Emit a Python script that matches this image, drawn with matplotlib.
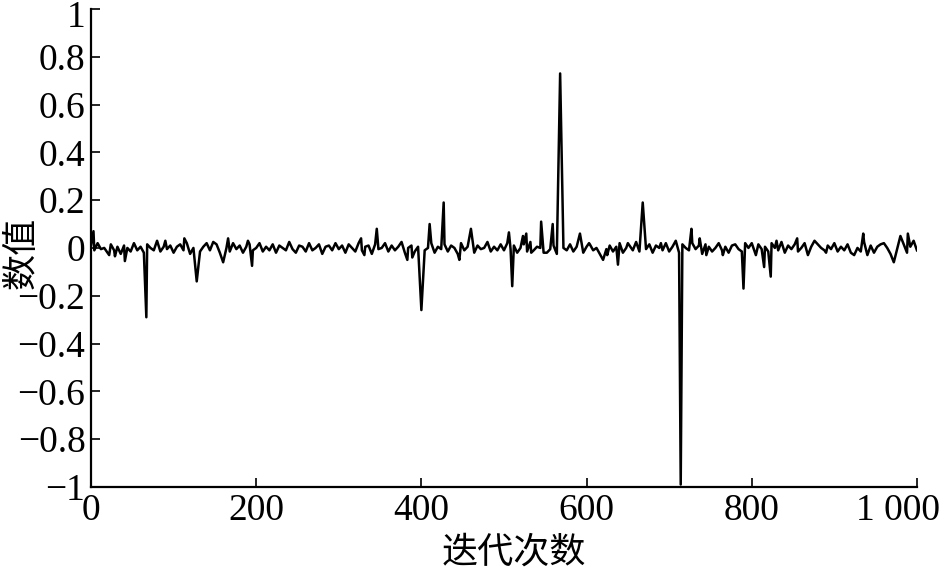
import matplotlib
matplotlib.use('Agg')
import matplotlib.pyplot as plt
from matplotlib.transforms import ScaledTranslation

plt.rcParams['font.family'] = ['Liberation Serif', 'Noto Sans CJK SC']
plt.rcParams['axes.unicode_minus'] = True

# baseline noise, one value every 4 iterations (0..1000)
base_step = 4
base_values = [
    0.01, -0.01, 0.02, -0.005, 0.0, -0.02, 0.015, -0.01, 0.005, -0.025, 0.01, 0.0, -0.015, 0.02, -0.01, 0.005, -0.02, 0.015, 0.0, -0.01, 0.025, -0.015, 0.005, -0.005, 0.01,
    -0.02, 0.005, 0.015, -0.01, 0.02, -0.025, 0.0, 0.01, -0.015, 0.005, 0.02, -0.01, -0.005, 0.015, -0.02, 0.01, 0.0, -0.015, 0.02, -0.005, 0.01, -0.02, 0.005, 0.015, -0.01,
    0.0, 0.02, -0.015, 0.005, -0.01, 0.015, -0.02, 0.01, 0.0, -0.01, 0.025, -0.005, -0.02, 0.01, 0.005, -0.015, 0.02, -0.01, 0.0, 0.015, -0.025, 0.005, 0.01, -0.01, 0.02,
    -0.005, 0.01, -0.02, 0.015, 0.0, -0.015, 0.02, -0.01, 0.005, 0.01, -0.025, 0.015, -0.005, 0.0, 0.02, -0.015, 0.01, -0.01, 0.005, 0.025, -0.02, 0.0, 0.01, -0.015, 0.005,
    0.015, -0.01, 0.0, 0.02, -0.02, 0.005, -0.005, 0.015, -0.015, 0.01, 0.0, -0.025, 0.02, -0.01, 0.005, 0.015, -0.02, 0.01, -0.005, 0.0, 0.02, -0.015, 0.005, -0.01, 0.015,
    -0.01, 0.02, -0.005, 0.01, -0.02, 0.0, 0.015, -0.015, 0.025, -0.01, 0.005, 0.0, -0.02, 0.015, -0.005, 0.01, -0.025, 0.02, 0.0, -0.01, 0.015, -0.015, 0.005, 0.01, -0.02,
    0.005, 0.015, -0.01, 0.0, -0.025, 0.02, -0.005, 0.01, -0.015, 0.005, 0.02, -0.02, 0.0, 0.01, -0.01, 0.025, -0.015, 0.005, -0.005, 0.015, -0.02, 0.01, 0.0, -0.01, 0.02,
    -0.015, 0.005, 0.01, -0.02, 0.015, 0.0, -0.01, 0.02, -0.005, 0.01, -0.025, 0.015, 0.005, -0.015, 0.0, 0.02, -0.01, 0.005, -0.02, 0.01, 0.015, -0.005, -0.015, 0.02, 0.0,
    0.01, -0.02, 0.015, -0.005, 0.005, -0.015, 0.02, 0.0, -0.01, 0.025, -0.02, 0.01, -0.005, 0.015, -0.015, 0.0, 0.02, -0.01, 0.005, -0.025, 0.015, 0.0, -0.01, 0.01, -0.005,
    0.02, -0.015, 0.005, -0.01, 0.015, -0.02, 0.01, 0.0, -0.015, 0.025, -0.005, 0.01, -0.02, 0.005, 0.015, -0.01, 0.0, -0.025, 0.02, -0.005, 0.01, 0.015, -0.02, 0.005, -0.01,
    -0.01,
]

# single-iteration spikes
spike_iters = [3, 22, 29, 41, 67, 80, 90, 113, 128, 148, 160, 166, 190, 195,
               327, 331, 346, 383, 389, 400, 410, 427, 446, 460, 480,
               506, 510, 523, 527, 533, 545, 552, 559, 568, 592, 603, 620, 625, 638, 650, 668, 690,
               708, 714, 727, 737, 745, 765, 790, 800, 805, 815, 823, 830, 855, 868, 876, 890,
               924, 935, 940, 960, 972, 980, 989, 996, 1000]
spike_values = [0.07, -0.03, -0.035, -0.055, -0.29, 0.03, 0.03, 0.04, -0.14, 0.025, -0.06, 0.04, 0.03, -0.075,
                0.04, -0.03, 0.08, -0.05, -0.04, -0.26, 0.10, 0.19, -0.05, 0.08, 0.025,
                0.065, -0.16, 0.05, 0.06, -0.02, 0.11, -0.02, 0.10, 0.73, 0.06, 0.02, -0.05, -0.03, -0.07, 0.02, 0.19, 0.02,
                0.03, -0.99, 0.08, 0.04, -0.03, -0.03, -0.17, 0.02, -0.03, -0.08, -0.12, 0.03, 0.04, -0.03, 0.03, -0.02,
                -0.03, 0.06, -0.03, 0.02, -0.06, 0.05, 0.06, 0.03, -0.01]

xticks = [0, 200, 400, 600, 800, 1000]
xtick_labels = ['0', '200', '400', '600', '800', '1 000']
yticks = [-1, -0.8, -0.6, -0.4, -0.2, 0, 0.2, 0.4, 0.6, 0.8, 1]
ytick_labels = ['\u22121', '\u22120.8', '\u22120.6', '\u22120.4', '\u22120.2', '0', '0.2', '0.4', '0.6', '0.8', '1']

series = dict(zip(range(0, 1001, base_step), base_values))
for k, v in zip(spike_iters, spike_values):
    series[k] = v
iters = sorted(series)
values = [series[i] for i in iters]

fig = plt.figure(figsize=(9.45, 5.79), dpi=100)
ax = fig.add_axes([0.0963, 0.159, 0.874, 0.8256])
ax.plot(iters, values, color='black', linewidth=1.8)

ax.set_xlim(0, 1000)
ax.set_ylim(-1, 1)
ax.set_xticks(xticks, xtick_labels)
ax.set_yticks(yticks, ytick_labels)
ax.tick_params(direction='in', length=6.5, width=1.2, labelsize=27)
ax.tick_params(axis='y', pad=4)
ax.tick_params(axis='x', pad=5)
ax.spines['top'].set_visible(False)
ax.spines['right'].set_visible(False)
for s in ('left', 'bottom'):
    ax.spines[s].set_linewidth(1.6)

# last x label sits a little left of its tick, top y label a little low, as in the original
last = ax.get_xticklabels()[-1]
last.set_transform(last.get_transform() + ScaledTranslation(-0.19, 0, fig.dpi_scale_trans))
top = ax.get_yticklabels()[-1]
top.set_transform(top.get_transform() + ScaledTranslation(0, -0.05, fig.dpi_scale_trans))

ax.set_xlabel('迭代次数', fontsize=26, family=['Noto Sans CJK SC'])
ax.xaxis.set_label_coords(0.512, -0.10)
ax.set_ylabel('数值', fontsize=26, family=['Noto Sans CJK SC'])
ax.yaxis.set_label_coords(-0.062, 0.49)

fig.savefig('out.png', dpi=100)
